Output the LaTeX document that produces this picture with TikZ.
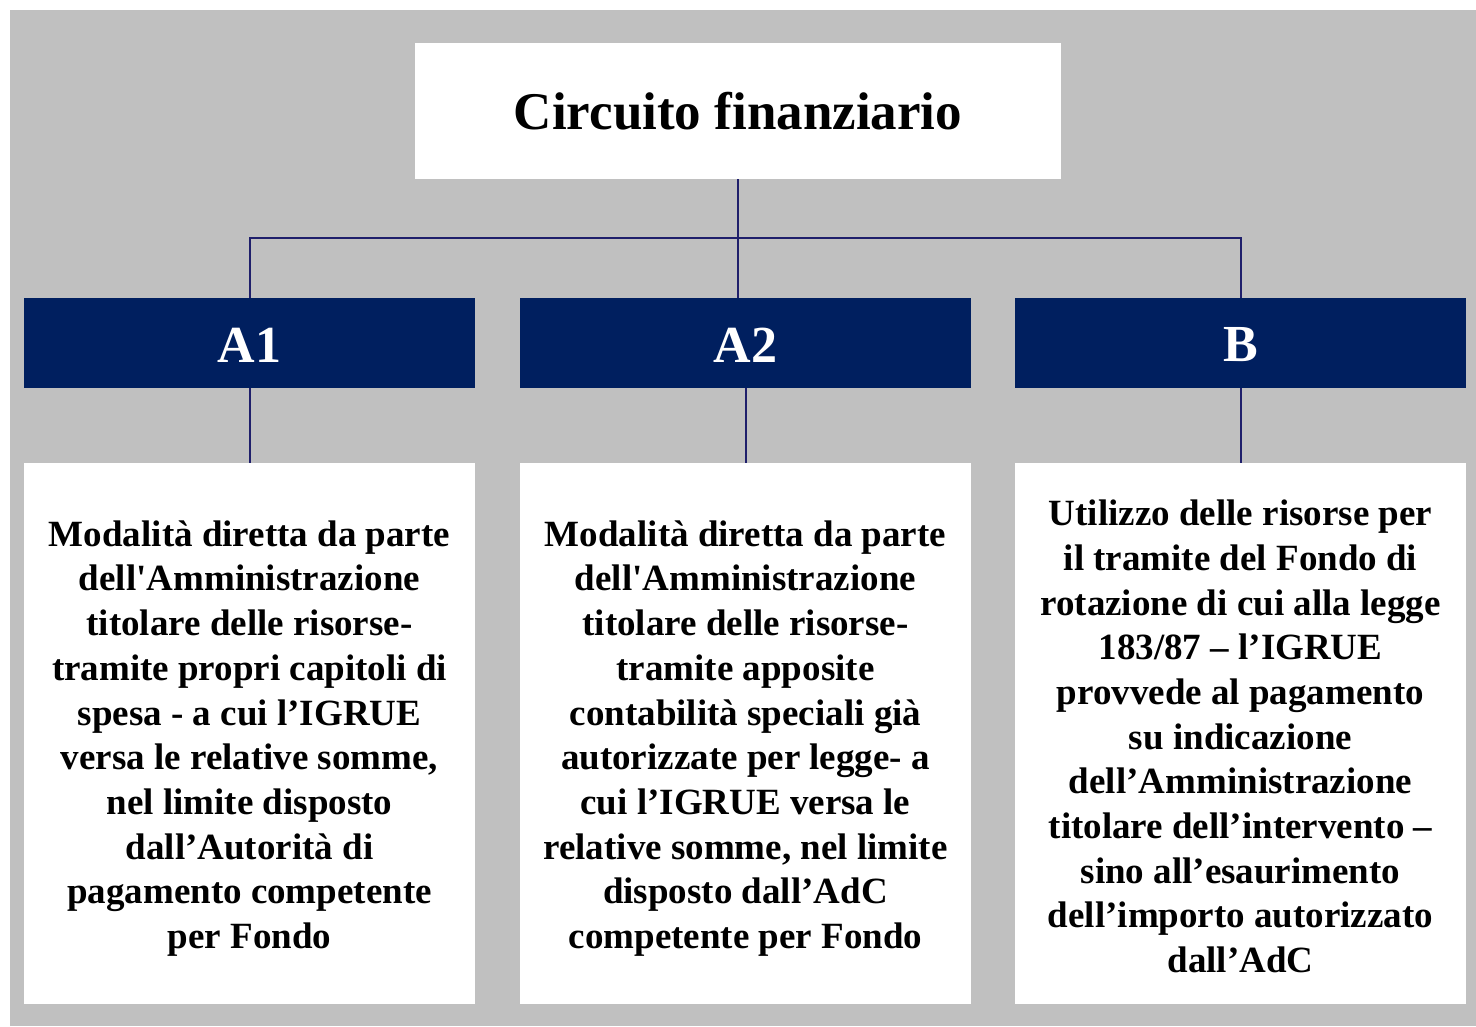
\documentclass[tikz,border=0pt]{standalone}
\usepackage{fontspec}
\setmainfont{Liberation Serif}[Ligatures=TeXOff]
\definecolor{bggray}{HTML}{C0C0C0}
\definecolor{navy}{HTML}{001F5F}
\definecolor{linenavy}{HTML}{1F1F6B}
\begin{document}
\begin{tikzpicture}[x=1pt,y=-1pt,
  titlebox/.style={draw=none,fill=white,minimum width=646pt,minimum height=136pt,inner sep=0pt,
    font=\fontsize{53}{60}\selectfont\bfseries},
  hdrbox/.style={draw=none,fill=navy,minimum width=451pt,minimum height=90pt,inner sep=0pt},
  hdrtext/.style={text=white,inner sep=0pt,font=\fontsize{52}{60}\selectfont\bfseries},
  bodybox/.style={draw=none,fill=white,minimum width=451pt,minimum height=541pt,inner sep=0pt},
  bodytext/.style={inner sep=0pt,align=center,font=\fontsize{37}{44.7}\selectfont\bfseries},
  conn/.style={draw=linenavy,line width=2pt}]
\useasboundingbox (0,0) rectangle (1476,1026);
\fill[white] (0,0) rectangle (1476,1026);
\fill[bggray] (10,10) rectangle (1476,1026);

\node[titlebox] (title) at (738,111) {Circuito finanziario};

\node[hdrbox] (a1) at (249.5,343) {};
\node[hdrbox] (a2) at (745.5,343) {};
\node[hdrbox] (b)  at (1240.5,343) {};
\node[hdrtext] (a1t) at ([yshift=-2pt]a1.center) {A1};
\node[hdrtext] (a2t) at ([yshift=-2pt]a2.center) {A2};
\node[hdrtext] (bt)  at ([yshift=-2pt]b.center) {B};

\node[bodybox] (d1) at (249.5,733.5) {};
\node[bodybox] (d2) at (745.5,733.5) {};
\node[bodybox] (d3) at (1240.5,733.5) {};
\node[bodytext] (d1t) at ([yshift=-5pt]d1.center) {Modalità diretta da parte\\dell'Amministrazione\\titolare delle risorse-\\tramite propri capitoli di\\spesa - a cui l’IGRUE\\versa le relative somme,\\nel limite disposto\\dall’Autorità di\\pagamento competente\\per Fondo};
\node[bodytext] (d2t) at ([yshift=-5pt]d2.center) {Modalità diretta da parte\\dell'Amministrazione\\titolare delle risorse-\\tramite apposite\\contabilità speciali già\\autorizzate per legge- a\\cui l’IGRUE versa le\\relative somme, nel limite\\disposto dall’AdC\\competente per Fondo};
\node[bodytext] (d3t) at ([yshift=-3pt]d3.center) {Utilizzo delle risorse per\\il tramite del Fondo di\\rotazione di cui alla legge\\183/87 – l’IGRUE\\provvede al pagamento\\su indicazione\\dell’Amministrazione\\titolare dell’intervento –\\sino all’esaurimento\\dell’importo autorizzato\\dall’AdC};

\coordinate (bus) at (738,238);
\draw[conn] (title.south) -- (title.south |- a2.north);
\draw[conn] (a1.north) |- (bus) -| (b.north);
\draw[conn] (a1.south) -- (d1.north);
\draw[conn] (a2.south) -- (d2.north);
\draw[conn] (b.south) -- (d3.north);
\end{tikzpicture}
\end{document}
